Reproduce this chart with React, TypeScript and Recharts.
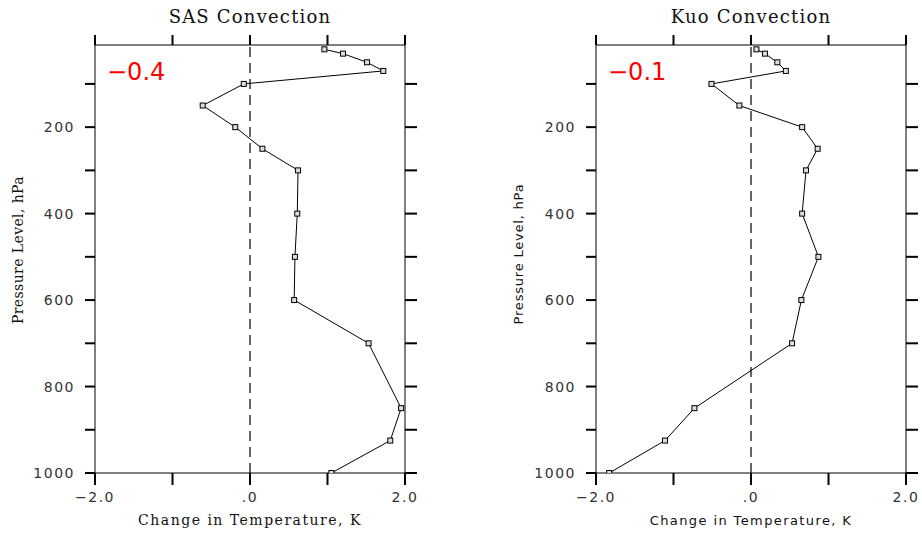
import React from "react";
import {
  ScatterChart,
  Scatter,
  XAxis,
  YAxis,
  ReferenceLine,
} from "recharts";

// pressure levels (hPa) and temperature change (K) for each scheme
const levels = [20, 30, 50, 70, 100, 150, 200, 250, 300, 400, 500, 600, 700, 850, 925, 1000];
const sasChange = [0.96, 1.2, 1.51, 1.72, -0.08, -0.61, -0.19, 0.16, 0.62, 0.61, 0.58, 0.57, 1.53, 1.95, 1.81, 1.05];
const kuoChange = [0.07, 0.18, 0.34, 0.45, -0.51, -0.15, 0.66, 0.86, 0.71, 0.66, 0.87, 0.65, 0.53, -0.73, -1.11, -1.83];

const xTicks = [-2, -1, 0, 1, 2];
const yTicks = [100, 200, 300, 400, 500, 600, 700, 800, 900, 1000];

const panels = [
  { title: "SAS Convection", mean: "\u22120.4", values: sasChange, serifLabels: true, left: 0 },
  { title: "Kuo Convection", mean: "\u22120.1", values: kuoChange, serifLabels: false, left: 501 },
];

const W = 460;
const H = 533;

const tickStyle = { fontFamily: "DejaVu Sans", fontSize: 14, fill: "#333", letterSpacing: 1.5 };

const xFmt = (v: number) => (v === -2 ? "\u22122.0" : v === 0 ? ".0" : v === 2 ? "2.0" : "");
const yFmt = (v: number) => (v % 200 === 0 ? String(v) : "");
const blank = () => "";

const Square = (props: any) => (
  <rect x={props.cx - 2.5} y={props.cy - 2.5} width={5} height={5} fill="#ddd" stroke="#000" strokeWidth={1} />
);
const NoShape = () => <g />;

function Panel({ p }: { p: (typeof panels)[number] }) {
  const data = levels.map((lev, i) => ({ p: lev, t: p.values[i] }));
  const labelFont = p.serifLabels
    ? { fontFamily: "DejaVu Serif", fontSize: 14, letterSpacing: 1.5 }
    : { fontFamily: "DejaVu Sans", fontSize: 13, letterSpacing: 1.4 };
  const yLabelFont = p.serifLabels
    ? { fontFamily: "DejaVu Serif", fontSize: 14, letterSpacing: 0.4 }
    : { fontFamily: "DejaVu Sans", fontSize: 13, letterSpacing: 0.8 };
  const yl = p.serifLabels ? { x: 19, y: 250 } : { x: 18, y: 254 };
  return (
    <div style={{ position: "absolute", left: p.left, top: 0, width: W, height: H }}>
      <ScatterChart width={W} height={H} margin={{ top: 35, right: 40, bottom: 30, left: 0 }}>
        <XAxis
          type="number"
          dataKey="t"
          domain={[-2, 2]}
          ticks={xTicks}
          interval={0}
          tickFormatter={xFmt}
          tick={tickStyle}
          tickSize={12}
          tickMargin={7}
          height={30}
          stroke="#000"
          tickLine={{ stroke: "#000", strokeWidth: 2 }}
          allowDataOverflow
        />
        <XAxis
          xAxisId="top"
          orientation="top"
          type="number"
          dataKey="t"
          domain={[-2, 2]}
          ticks={xTicks}
          interval={0}
          tickFormatter={blank}
          tickSize={10}
          height={10}
          stroke="#000"
          tickLine={{ stroke: "#000", strokeWidth: 2 }}
          allowDataOverflow
        />
        <YAxis
          type="number"
          dataKey="p"
          domain={[10, 1000]}
          reversed
          ticks={yTicks}
          interval={0}
          tickFormatter={yFmt}
          tick={tickStyle}
          tickSize={10}
          tickMargin={10}
          width={95}
          stroke="#000"
          tickLine={{ stroke: "#000", strokeWidth: 2 }}
          allowDataOverflow
        />
        <YAxis
          yAxisId="right"
          orientation="right"
          type="number"
          dataKey="p"
          domain={[10, 1000]}
          reversed
          ticks={yTicks}
          interval={0}
          tickFormatter={blank}
          tickSize={12}
          width={15}
          stroke="#000"
          tickLine={{ stroke: "#000", strokeWidth: 2 }}
          allowDataOverflow
        />
        <ReferenceLine x={0} stroke="#000" strokeWidth={1.2} strokeDasharray="10 6" />
        {/* invisible series so the top and right frame axes get ticks */}
        <Scatter
          data={data}
          xAxisId="top"
          yAxisId="right"
          shape={NoShape}
          isAnimationActive={false}
        />
        <Scatter
          data={data}
          line={{ stroke: "#000", strokeWidth: 1 }}
          shape={Square}
          isAnimationActive={false}
        />
      </ScatterChart>
      <svg width={W} height={H} style={{ position: "absolute", left: 0, top: 0, pointerEvents: "none" }}>
        <text x={250} y={18} textAnchor="middle" dominantBaseline="middle" fontFamily="DejaVu Serif" fontSize={18} letterSpacing={1.2} fill="#111">
          {p.title}
        </text>
        <text x={107} y={80} fontFamily="DejaVu Sans" fontSize={24} fill="#ff0000">
          {p.mean}
        </text>
        <text x={250} y={521} textAnchor="middle" dominantBaseline="middle" fill="#111" {...labelFont}>
          Change in Temperature, K
        </text>
        <text
          x={yl.x}
          y={yl.y}
          textAnchor="middle"
          dominantBaseline="middle"
          transform={`rotate(-90 ${yl.x} ${yl.y})`}
          fill="#111"
          {...yLabelFont}
        >
          Pressure Level, hPa
        </text>
      </svg>
    </div>
  );
}

export default function App() {
  return (
    <div style={{ position: "absolute", left: 0, top: 0, width: 922, height: 533, overflow: "hidden", background: "#fff" }}>
      {panels.map((p) => (
        <Panel key={p.title} p={p} />
      ))}
    </div>
  );
}
